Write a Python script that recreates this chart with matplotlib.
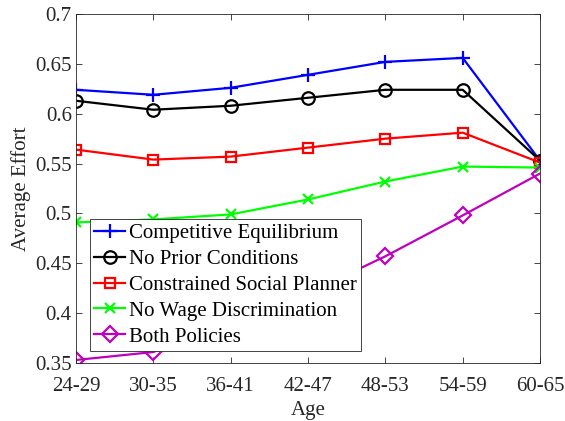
import matplotlib
matplotlib.use("Agg")
import matplotlib.pyplot as plt

ages = ["24-29", "30-35", "36-41", "42-47", "48-53", "54-59", "60-65"]

competitive = [0.624, 0.619, 0.626, 0.639, 0.652, 0.656, 0.553]
no_prior = [0.613, 0.604, 0.608, 0.616, 0.624, 0.624, 0.553]
planner = [0.564, 0.554, 0.557, 0.566, 0.575, 0.581, 0.551]
no_wage_disc = [0.491, 0.494, 0.499, 0.514, 0.532, 0.547, 0.546]
both_policies = [0.353, 0.361, 0.390, 0.420, 0.457, 0.498, 0.540]

labels = ["Competitive Equilibrium", "No Prior Conditions",
          "Constrained Social Planner", "No Wage Discrimination",
          "Both Policies"]

plt.rcParams["font.family"] = ["Liberation Serif", "DejaVu Serif"]

fig = plt.figure(figsize=(5.65, 4.21), dpi=100)
ax = fig.add_axes([0.1345, 0.1378, 0.8213, 0.8289])

x = range(len(ages))
ax.plot(x, competitive, color="#0000ff", marker="+", ms=10, mew=1.6, lw=1.6,
        label=labels[0])
ax.plot(x, no_prior, color="black", marker="o", ms=9, mfc="none", mew=1.6,
        lw=1.6, label=labels[1])
ax.plot(x, planner, color="#ff0000", marker="s", ms=7.5, mfc="none", mew=1.6,
        lw=1.6, label=labels[2])
ax.plot(x, no_wage_disc, color="#00ff00", marker="x", ms=7.5, mew=1.6, lw=1.6,
        label=labels[3])
ax.plot(x, both_policies, color="#bf00bf", marker="D", ms=8, mfc="none",
        mew=1.6, lw=1.6, label=labels[4])

ax.set_xlim(0, len(ages) - 1)
ax.set_ylim(0.35, 0.7)
ax.set_xticks(list(x))
ax.set_xticklabels(ages)
ax.set_yticks([0.35, 0.4, 0.45, 0.5, 0.55, 0.6, 0.65, 0.7])
ax.set_yticklabels(["0.35", "0.4", "0.45", "0.5", "0.55", "0.6", "0.65", "0.7"])

ax.tick_params(direction="in", top=True, right=True, length=4, width=0.6,
               colors="#262626", labelsize=15, pad=3)
ax.tick_params(axis="x", pad=10)
for s in ax.spines.values():
    s.set_color("#262626")
    s.set_linewidth(0.6)

ax.set_xlabel("Age", fontsize=15, color="#262626", labelpad=4)
ax.set_ylabel("Average Effort", fontsize=15, color="#262626", labelpad=3)

leg = ax.legend(loc="lower left", bbox_to_anchor=(0.03, 0.034),
                borderaxespad=0, fontsize=15, fancybox=False, framealpha=1,
                edgecolor="#262626", handlelength=1.45, handletextpad=0.2,
                labelspacing=0.3, borderpad=0.22)
leg.get_frame().set_linewidth(0.6)

fig.savefig("out.png", dpi=100)
